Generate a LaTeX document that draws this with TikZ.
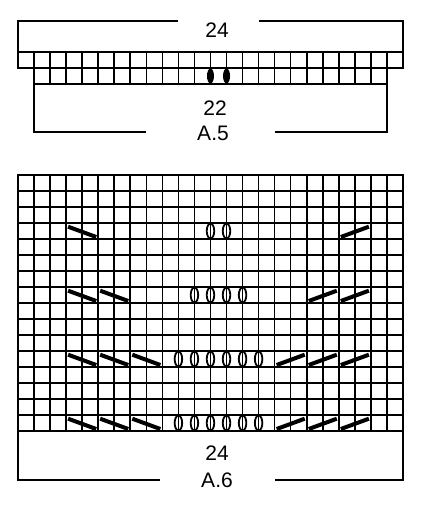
\documentclass[tikz,border=0pt]{standalone}
\usepackage{fontspec}
\setmainfont{Liberation Sans}
\usetikzlibrary{shapes.geometric}
\begin{document}
\begin{tikzpicture}[x=1pt,y=-1pt,
  gridline/.style={line width=1.6pt, line cap=rect},
  bracket/.style={line width=2pt},
  lbl/.style={font=\fontsize{21}{24}\selectfont, inner sep=0pt, anchor=center},
  dec/.style={line width=4pt},
  yo/.style={draw, line width=1.8pt, ellipse, minimum width=7.5pt, minimum height=15pt, inner sep=0pt},
  dot/.style={fill=black, ellipse, minimum width=7pt, minimum height=15pt, inner sep=0pt}]
\useasboundingbox (0,0) rectangle (420,510);
\def\w{16.04}
% ---------- A.5 ----------
% row 1: 24 cells, 18..403, y 52..68
\foreach \i in {0,...,24} \draw[gridline] ({18+\i*\w},52) -- ({18+\i*\w},68);
\draw[gridline] (18,52) -- (403,52);
\draw[gridline] (18,68) -- (403,68);
% row 2: 22 cells, 34..387, y 68..84
\foreach \i in {1,...,23} \draw[gridline] ({18+\i*\w},68) -- ({18+\i*\w},84);
\draw[gridline] ({18+\w},84) -- ({18+23*\w},84);
\node[dot] (d1) at ({18+12*\w},76) {};
\node[dot] (d2) at ({18+13*\w},76) {};
% top bracket
\node[lbl] (t24) at (217,30) {24};
\coordinate (tl1) at (18,52); \coordinate (tl2) at (18,21); \coordinate (tl3) at (178,21);
\coordinate (tr1) at (403,52); \coordinate (tr2) at (403,21); \coordinate (tr3) at (259,21);
\draw[bracket] (tl1) -- (tl2) -- (tl3);
\draw[bracket] (tr1) -- (tr2) -- (tr3);
% bottom bracket
\node[lbl] (t22) at (215,108) {22};
\node[lbl] (ta5) at (213,133) {A.5};
\coordinate (bl1) at ({18+\w},84); \coordinate (bl2) at ({18+\w},132); \coordinate (bl3) at (146,132);
\coordinate (br1) at ({18+23*\w},84); \coordinate (br2) at ({18+23*\w},132); \coordinate (br3) at (275,132);
\draw[bracket] (bl1) -- (bl2) -- (bl3);
\draw[bracket] (br1) -- (br2) -- (br3);
% ---------- A.6 ----------
\foreach \i in {0,...,24} \draw[gridline] ({18+\i*\w},175) -- ({18+\i*\w},431);
\foreach \j in {0,...,16} \draw[gridline] (18,{175+\j*16}) -- (403,{175+\j*16});
% decreases: left-leaning (\) and right-leaning (/)
\newcommand\lslash[2]{% #1 = first column index (0-based), #2 = row (1-based)
  \draw[dec] ({18+#1*\w+2},{175+(#2-1)*16+3.7}) -- ({18+(#1+2)*\w-2},{175+#2*16-2});}
\newcommand\rslash[2]{%
  \draw[dec] ({18+#1*\w+2},{175+#2*16-2}) -- ({18+(#1+2)*\w-2},{175+(#2-1)*16+3.7});}
\newcommand\yoat[2]{\node[yo] at ({18+#1*\w},{175+(#2-0.5)*16}) {};}
% row 4
\lslash{3}{4} \rslash{20}{4}
\foreach \k in {12,13} {\yoat{\k}{4}}
% row 8
\lslash{3}{8} \lslash{5}{8} \rslash{18}{8} \rslash{20}{8}
\foreach \k in {11,...,14} {\yoat{\k}{8}}
% rows 12 and 16
\foreach \r in {12,16} {
  \lslash{3}{\r} \lslash{5}{\r} \lslash{7}{\r}
  \rslash{16}{\r} \rslash{18}{\r} \rslash{20}{\r}
  \foreach \k in {10,...,15} {\yoat{\k}{\r}}
}
% bottom bracket
\node[lbl] (s24) at (217,453) {24};
\node[lbl] (ta6) at (217,480) {A.6};
\coordinate (cl1) at (18,431); \coordinate (cl2) at (18,480); \coordinate (cl3) at (160,480);
\coordinate (cr1) at (403,431); \coordinate (cr2) at (403,480); \coordinate (cr3) at (275,480);
\draw[bracket] (cl1) -- (cl2) -- (cl3);
\draw[bracket] (cr1) -- (cr2) -- (cr3);
\end{tikzpicture}
\end{document}
